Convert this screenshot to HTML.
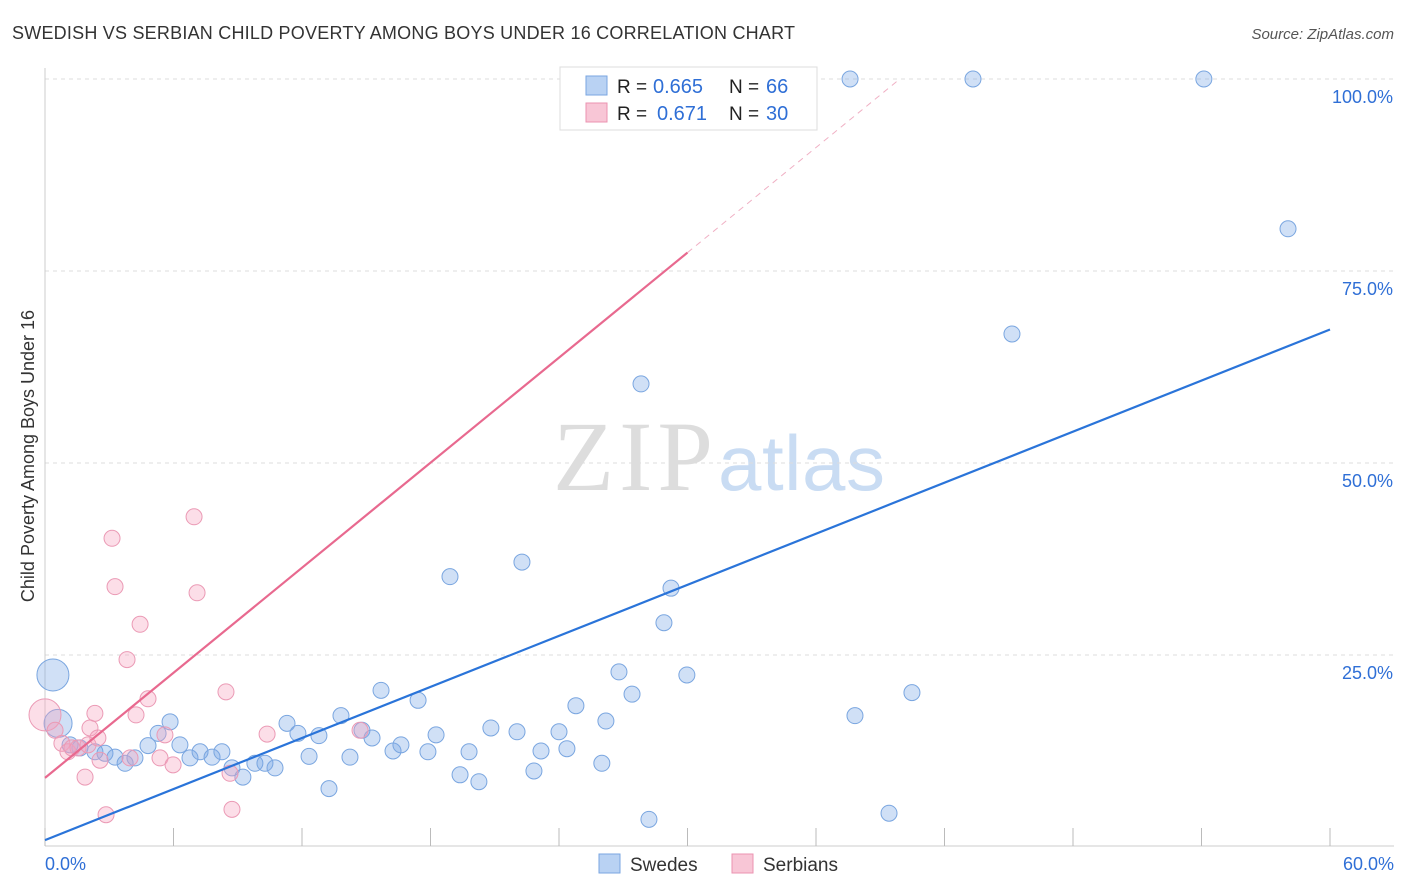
<!DOCTYPE html>
<html><head><meta charset="utf-8"><style>
body{margin:0;background:#fff;font-family:"Liberation Sans",sans-serif;}
svg{display:block}
</style></head><body>
<svg id="c" width="1406" height="892" xmlns="http://www.w3.org/2000/svg">
<text x="12" y="39" font-size="18" fill="#333" textLength="783">SWEDISH VS SERBIAN CHILD POVERTY AMONG BOYS UNDER 16 CORRELATION CHART</text>
<text x="1394" y="39" font-size="15" fill="#555" font-style="italic" text-anchor="end">Source: ZipAtlas.com</text>
<g>
<text x="553" y="490" font-size="100" font-family="Liberation Serif,serif" fill="#ddd" textLength="160">ZIP</text>
<text x="718" y="490" font-size="78" fill="#c9dcf3" textLength="167">atlas</text>
</g>
<g id="grid"></g>
<g id="marks"></g>
<text transform="translate(34,456) rotate(-90)" font-size="18" fill="#333" text-anchor="middle">Child Poverty Among Boys Under 16</text>
<g>
<rect x="560" y="67" width="257" height="63" fill="#fff" stroke="#ddd"/>
<rect x="586" y="76" width="21" height="19" fill="#b9d2f3" stroke="#7aa6e0"/>
<rect x="586" y="103" width="21" height="19" fill="#f8c6d6" stroke="#eb93b0"/>
<text x="617" y="93" font-size="19" fill="#222">R =</text>
<text x="653" y="93" font-size="20" fill="#2f6fd6">0.665</text>
<text x="729" y="93" font-size="19" fill="#222">N =</text>
<text x="766" y="93" font-size="20" fill="#2f6fd6">66</text>
<text x="617" y="120" font-size="19" fill="#222">R =</text>
<text x="657" y="120" font-size="20" fill="#2f6fd6">0.671</text>
<text x="729" y="120" font-size="19" fill="#222">N =</text>
<text x="766" y="120" font-size="20" fill="#2f6fd6">30</text>
</g>
<g>
<rect x="599" y="854" width="21" height="19" fill="#b9d2f3" stroke="#7aa6e0"/>
<text x="630" y="871" font-size="19" fill="#333">Swedes</text>
<rect x="732" y="854" width="21" height="19" fill="#f8c6d6" stroke="#eb93b0"/>
<text x="763" y="871" font-size="19" fill="#333">Serbians</text>
</g>
</svg>
<script>
const xTicks=[0,6,12,18,24,30,36,42,48,54,60];
const xLabels=["0.0%","60.0%"];
const yTicks=[25,50,75,100];
const yLabels=["25.0%","50.0%","75.0%","100.0%"];
const blueX=[0.37,0.61,1.17,1.63,2.33,2.8,3.27,3.74,4.2,4.81,5.28,5.84,6.3,6.77,7.24,7.8,8.26,8.73,9.24,9.8,10.27,10.74,11.3,11.81,12.33,12.79,13.26,13.82,14.24,14.8,15.27,15.69,16.25,16.62,17.42,17.88,18.26,18.91,19.38,19.8,20.26,20.82,22.04,22.27,22.83,23.16,24.0,24.37,24.79,26.0,26.19,26.8,27.41,27.83,28.2,28.9,29.23,29.97,37.59,37.82,39.41,40.48,43.33,45.15,54.11,58.04];
const blueY=[22.4,16.1,13.3,12.9,12.4,12.2,11.7,10.9,11.6,13.2,14.8,16.3,13.3,11.6,12.4,11.7,12.4,10.3,9.1,10.9,10.9,10.3,16.1,14.8,11.8,14.5,7.6,17.1,11.7,15.2,14.2,20.4,12.5,13.3,19.1,12.4,14.6,35.2,9.4,12.4,8.5,15.5,15.0,37.1,9.9,12.5,15.0,12.8,18.4,10.9,16.4,22.8,19.9,60.3,3.6,29.2,33.7,22.4,100,17.1,4.4,20.1,100,66.8,100,80.5];
const pinkX=[0,0.47,0.79,1.07,1.26,1.54,1.87,2.01,2.1,2.33,2.47,2.57,2.85,3.13,3.27,3.83,3.97,4.25,4.44,4.81,5.37,5.6,5.98,6.96,7.1,8.45,8.64,8.73,10.37,14.71];
const pinkY=[17.2,15.2,13.5,12.4,12.9,12.9,9.1,13.3,15.5,17.4,14.2,11.3,4.2,40.2,33.9,24.4,11.6,17.2,29.0,19.3,11.6,14.6,10.7,43.0,33.1,20.2,9.6,4.9,14.7,15.2];
const blueFit=[0.9,1.108];
const pinkFit=[9.0,2.28];
const NS="http://www.w3.org/2000/svg";
const X=v=>45+v/60*1285, Y=v=>847-v/25*192;
function mk(p,t,a){const e=document.createElementNS(NS,t);for(const k in a)e.setAttribute(k,a[k]);p.appendChild(e);return e;}
const grid=document.getElementById('grid'),marks=document.getElementById('marks');
yTicks.forEach((t,i)=>{
 const l=mk(grid,'line',{x1:45,x2:1394,y1:Y(t),y2:Y(t),stroke:'#ddd','stroke-dasharray':'4,4'});
 
 
 const tx=mk(grid,'text',{x:1393,y:Y(t)+24,'font-size':18,fill:'#2f6fd6','text-anchor':'end'});tx.textContent=yLabels[i];
 
 
});
mk(grid,'line',{x1:45,x2:45,y1:68,y2:846,stroke:'#ccc'});
mk(grid,'line',{x1:45,x2:1394,y1:846,y2:846,stroke:'#ccc'});
xTicks.forEach(t=>{const l=mk(grid,'line',{x1:X(t),x2:X(t),y1:828,y2:846,stroke:'#bbb'});
 
 });
[[0,xLabels[0],'start',45],[60,xLabels[1],'end',1394]].forEach(d=>{const t=mk(grid,'text',{x:d[3],y:870,'font-size':18,fill:'#2f6fd6','text-anchor':d[2]});t.textContent=d[1];
 
 });
blueX.forEach((x,i)=>{const r=i==0?16:(i==1?14:8);const c=mk(marks,'circle',{cx:X(x),cy:Y(blueY[i]),r:r,fill:'rgba(120,165,230,0.35)',stroke:'#7aa6e0','stroke-width':1});
 
 });
pinkX.forEach((x,i)=>{const r=i==0?16:8;const c=mk(marks,'circle',{cx:X(x),cy:Y(pinkY[i]),r:r,fill:'rgba(245,160,190,0.35)',stroke:'#eb9ab5','stroke-width':1});
 
 });
const bl=mk(marks,'line',{x1:X(0),y1:Y(blueFit[0]),x2:X(60),y2:Y(blueFit[0]+60*blueFit[1]),stroke:'#2a74d9','stroke-width':2.2});


const xs=30, xe=(100-pinkFit[0])/pinkFit[1];
const pl=mk(marks,'line',{x1:X(0),y1:Y(pinkFit[0]),x2:X(xs),y2:Y(pinkFit[0]+xs*pinkFit[1]),stroke:'#e8698f','stroke-width':2.2});


const pd=mk(marks,'line',{x1:X(xs),y1:Y(pinkFit[0]+xs*pinkFit[1]),x2:X(xe),y2:Y(100),stroke:'#f0b0c4','stroke-width':1,'stroke-dasharray':'6,5'});


</script>
</body></html>
